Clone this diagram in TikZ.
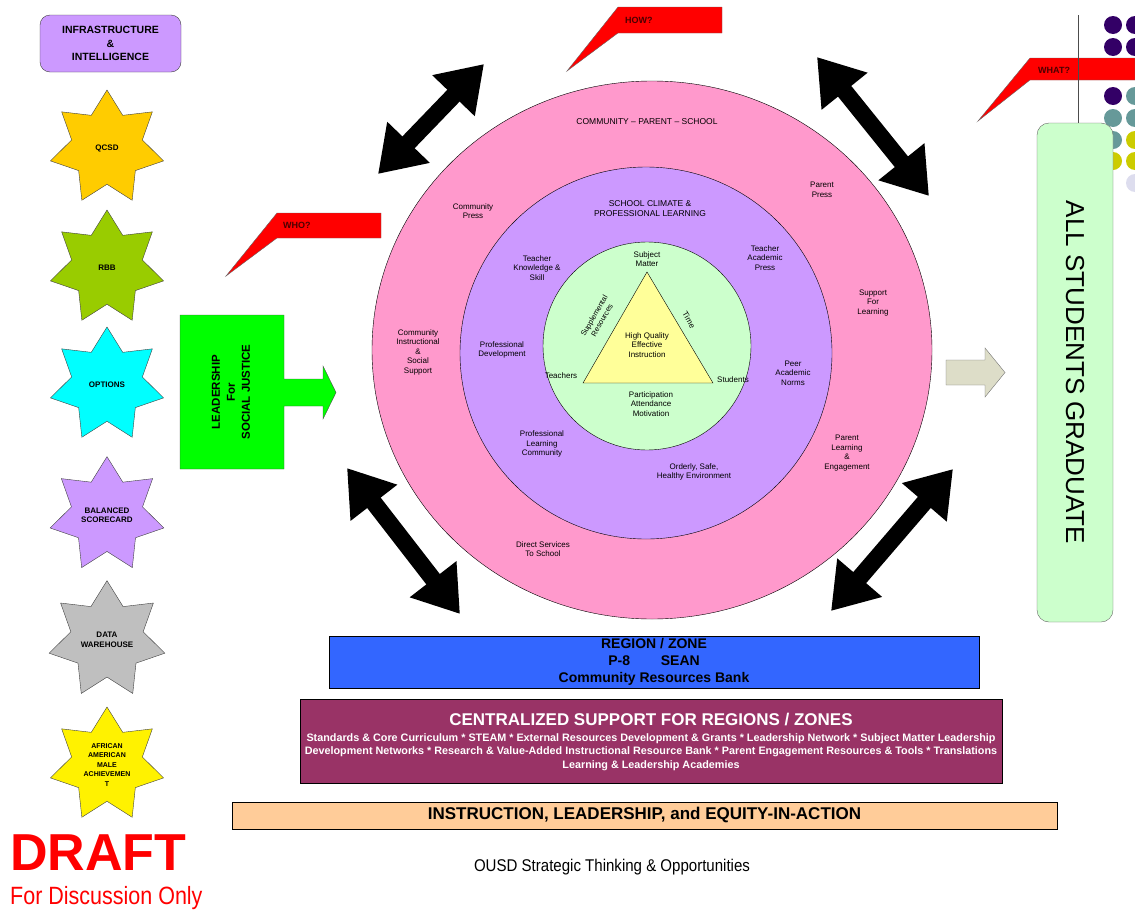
\documentclass[tikz,border=0pt]{standalone}
\usepackage{fontspec}
\setmainfont{Liberation Sans}
\usetikzlibrary{shapes.geometric,arrows.meta}

\definecolor{pinkring}{HTML}{FF99CC}
\definecolor{lilac}{HTML}{CC99FF}
\definecolor{mint}{HTML}{CCFFCC}
\definecolor{paleyellow}{HTML}{FFFF99}
\definecolor{qcsdgold}{HTML}{FFCC00}
\definecolor{rbbgreen}{HTML}{99CC00}
\definecolor{optcyan}{HTML}{00FFFF}
\definecolor{regionblue}{HTML}{3366FF}
\definecolor{plumbar}{HTML}{993366}
\definecolor{peachbar}{HTML}{FFCC99}
\definecolor{khakiarrow}{HTML}{DDDDC8}
\definecolor{dotpurple}{HTML}{330066}
\definecolor{dotteal}{HTML}{669999}
\definecolor{dotolive}{HTML}{CCCC00}
\definecolor{dotlav}{HTML}{DDDDEE}

\begin{document}
\begin{tikzpicture}[x=1pt,y=-1pt,
    lbl/.style={font=\fontsize{8}{9.5}\selectfont,align=center,inner sep=0pt},
    starnode/.style={star,star points=7,star point ratio=1.6,minimum size=116pt,inner sep=0pt,
        draw=black!75,align=center,font=\bfseries\fontsize{8}{9.5}\selectfont},
    callout/.style={draw=black!60,fill=red},
    calltext/.style={anchor=west,inner sep=0pt,font=\bfseries\fontsize{9}{10}\selectfont,text=red!30!black},
    bigarrow/.style={line width=17pt,{Triangle[length=44pt,width=56pt]}-{Triangle[length=44pt,width=56pt]}},
    bar/.style={draw,line width=0.8pt,inner sep=0pt,align=center}]
  \useasboundingbox (0,0) rectangle (1135,913);

  % left column
  \node[draw=black!75,rounded corners=10pt,fill=lilac,minimum width=141pt,minimum height=57pt,align=center,
        font=\bfseries\fontsize{10.5}{13.5}\selectfont] (infra) at (110.5,43.5) {INFRASTRUCTURE\\\&\\INTELLIGENCE};
  \node[starnode,fill=qcsdgold] (qcsd) at (107,148) {QCSD};
  \node[starnode,fill=rbbgreen] (rbb) at (107,268) {RBB};
  \node[starnode,fill=optcyan] (options) at (107,385) {OPTIONS};
  \node[starnode,fill=lilac] (scorecard) at (107,515) {BALANCED\\SCORECARD};
  \node[starnode,fill=black!25] (warehouse) at (107,640) {DATA\\WAREHOUSE};
  \node[starnode,fill=yellow,font=\bfseries\fontsize{7}{9.5}\selectfont] (aama) at (107,765) {AFRICAN\\AMERICAN\\MALE\\ACHIEVEMEN\\T};
  \node[anchor=west,inner sep=0pt,text=red,font=\bfseries\fontsize{52}{60}\selectfont] (draft) at (10,853) {DRAFT};
  \node[anchor=west,inner sep=0pt,text=red,xscale=0.86,font=\fontsize{25}{28}\selectfont] (discuss) at (10,898) {For Discussion Only};

  % leadership block arrow
  \draw[fill=green,draw=black!70] (180,315) -- (284,315) -- (284,379) -- (323,379) -- (323,366) -- (336,392.5)
      -- (323,419) -- (323,406) -- (284,406) -- (284,469) -- (180,469) -- cycle;
  \node[rotate=90,align=center,inner sep=0pt,font=\bfseries\fontsize{11.5}{15}\selectfont] (leader) at (231,392) {LEADERSHIP\\For\\SOCIAL JUSTICE};

  % rings
  \draw[fill=pinkring] (652,350) ellipse [x radius=280pt,y radius=269pt];
  \draw[fill=lilac] (646,353) circle [radius=186pt];
  \draw[fill=mint] (647,346) circle [radius=104pt];
  \draw[fill=paleyellow] (647,272) -- (713,383) -- (583,383) -- cycle;

  \node[lbl,font=\fontsize{8.5}{10}\selectfont] (cps) at (647,122) {COMMUNITY -- PARENT -- SCHOOL};
  \node[lbl] (compress) at (473,211) {Community\\Press};
  \node[lbl] (parpress) at (822,190) {Parent\\Press};
  \node[lbl] (support) at (873,303) {Support\\For\\Learning};
  \node[lbl] (cominst) at (418,352) {Community\\Instructional\\\&\\Social\\Support};
  \node[lbl] (parlearn) at (847,453) {Parent\\Learning\\\&\\Engagement};
  \node[lbl] (direct) at (543,549) {Direct Services\\To School};

  \node[lbl,font=\fontsize{8.5}{10}\selectfont] (climate) at (650,209) {SCHOOL CLIMATE \&\\PROFESSIONAL LEARNING};
  \node[lbl] (tknow) at (537,268) {Teacher\\Knowledge \&\\Skill};
  \node[lbl] (tpress) at (765,258) {Teacher\\Academic\\Press};
  \node[lbl] (profdev) at (502,350) {Professional\\Development};
  \node[lbl] (peer) at (793,373) {Peer\\Academic\\Norms};
  \node[lbl] (plc) at (542,444) {Professional\\Learning\\Community};
  \node[lbl] (orderly) at (694,472) {Orderly, Safe,\\Healthy Environment};

  \node[lbl] (subject) at (647,259) {Subject\\Matter};
  \node[lbl,rotate=60,font=\fontsize{7.5}{9}\selectfont] (supp) at (598,318) {Supplemental\\Resources};
  \node[lbl,rotate=-60] (time) at (689,320) {Time};
  \node[lbl] (hqei) at (647,345) {High Quality\\Effective\\Instruction};
  \node[lbl] (teachers) at (561,376) {Teachers};
  \node[lbl] (students) at (733,380) {Students};
  \node[lbl] (attend) at (651,404) {Participation\\Attendance\\Motivation};

  % double arrows
  \coordinate (nwA) at (378,174); \coordinate (nwB) at (484,64);
  \coordinate (neA) at (817,57);  \coordinate (neB) at (929,196);
  \coordinate (swA) at (347,468); \coordinate (swB) at (460,614);
  \coordinate (seA) at (953,469); \coordinate (seB) at (831,611);
  \draw[bigarrow] (nwA) -- (nwB);
  \draw[bigarrow] (neA) -- (neB);
  \draw[bigarrow] (swA) -- (swB);
  \draw[bigarrow] (seA) -- (seB);

  % callouts
  \draw[callout] (618,7) -- (722,7) -- (722,33) -- (618,33) -- (567,71) -- cycle;
  \node[calltext] (how) at (625,20) {HOW?};
  \draw[callout] (277,213) -- (381,213) -- (381,238) -- (277,238) -- (226,276) -- cycle;
  \node[calltext] (who) at (283,225) {WHO?};

  % right side
  \foreach \y/\ca/\cb in {25/dotpurple/dotpurple,47/dotpurple/dotpurple,96/dotpurple/dotteal,
      118/dotteal/dotteal,140/dotteal/dotolive,161/dotolive/dotolive,183/white/dotlav}
    {\fill[\ca] (1113,\y) circle [radius=9pt]; \fill[\cb] (1135,\y) circle [radius=9pt];}
  \draw[callout] (1030,58) -- (1135,58) -- (1135,80) -- (1030,80) -- (978,121) -- cycle;
  \node[calltext] (what) at (1038,70) {WHAT?};
  \draw[black!70] (1078,15) -- (1078,123);
  \node[draw=black!60,rounded corners=12pt,fill=mint,rotate=-90,minimum width=499pt,minimum height=76pt,
        font=\fontsize{26}{30}\selectfont] (grad) at (1075,372.5) {ALL STUDENTS GRADUATE};
  \draw[fill=khakiarrow,draw=black!55] (946,360) -- (985,360) -- (985,348) -- (1005,372.5) -- (985,397)
      -- (985,385) -- (946,385) -- cycle;

  % bottom bars
  \node[bar,fill=regionblue,minimum width=650pt,minimum height=52pt,font=\bfseries\fontsize{14}{17}\selectfont]
      (region) at (654,662) {REGION / ZONE\\P-8\hspace{2.2em}SEAN\\Community Resources Bank};
  \node[bar,fill=plumbar,minimum width=702pt,minimum height=84pt] (central) at (651,741) {};
  \node[text=white,font=\bfseries\fontsize{17}{20}\selectfont] (centraltitle) at (651,720) {CENTRALIZED SUPPORT FOR REGIONS / ZONES};
  \node[text=white,align=center,inner sep=0pt,font=\bfseries\fontsize{10.8}{13.5}\selectfont] (centrallist) at (651,752)
      {Standards \& Core Curriculum * STEAM * External Resources Development \& Grants * Leadership Network * Subject Matter Leadership\\
       Development Networks * Research \& Value-Added Instructional Resource Bank * Parent Engagement Resources \& Tools * Translations\\
       Learning \& Leadership Academies};
  \node[bar,fill=peachbar,minimum width=825pt,minimum height=27pt,font=\bfseries\fontsize{17}{18}\selectfont]
      (equity) at (644.5,815.5) {INSTRUCTION, LEADERSHIP, and EQUITY-IN-ACTION};
  \node[xscale=0.885,font=\fontsize{17}{20}\selectfont] (ousd) at (612,867) {OUSD Strategic Thinking \& Opportunities};
\end{tikzpicture}
\end{document}
